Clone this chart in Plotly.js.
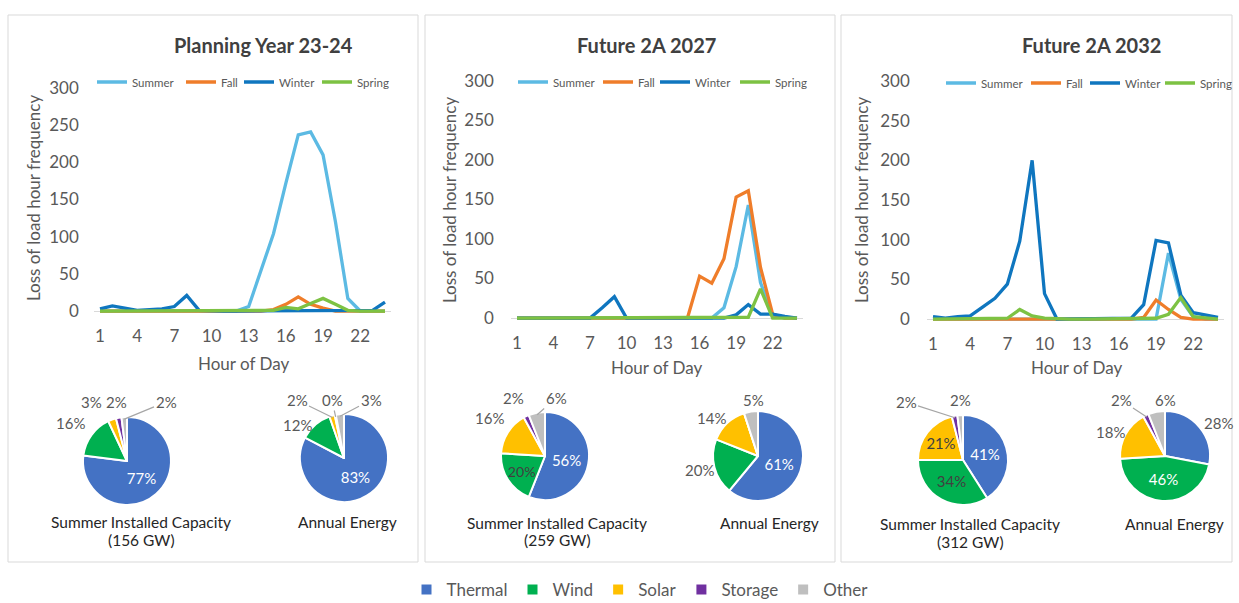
<!DOCTYPE html>
<html>
<head>
<meta charset="utf-8">
<script src="https://cdn.plot.ly/plotly-3.0.1.min.js"></script>
<style>html,body{margin:0;padding:0;background:#fff;overflow:hidden;}#chart{width:1239px;height:603px;}</style>
</head>
<body>
<div id="chart"></div>
<script>
// ---------- DATA ----------
const hours = Array.from({length: 24}, (_, i) => i + 1);
const xTickVals = [1, 4, 7, 10, 13, 16, 19, 22];
const yTickVals = [0, 50, 100, 150, 200, 250, 300];
const seasons = ['Summer', 'Fall', 'Winter', 'Spring'];

// Planning Year 23-24
const py_summer = [0,0,0,0,0,0,0,0,0,0,0,0,6,55,104,172,237,241,210,120,17,0,0,0];
const py_fall   = [0,0,0,0,0,0,0,0,0,0,0,0,0,0,2,9,19,9,4,0,0,0,0,0];
const py_winter = [3,7,4,1,2,3,6,21,1,0,0,0,0,0,0,0,0,0,0,0,0,0,1,12];
const py_spring = [0,0,0,0,0,0,0,0,0,0,0,0,0,0,1,5,3,10,17,9,1,0,0,0];

// Future 2A 2027
const f27_summer = [0,0,0,0,0,0,0,0,0,0,0,0,0,0,0,0,0,13,65,143,45,3,0,0];
const f27_fall   = [0,0,0,0,0,0,0,0,0,0,0,0,0,0,0,53,44,75,153,161,64,5,0,0];
const f27_winter = [0,0,0,0,0,0,0,13,27,0,0,0,0,0,0,0,0,0,4,17,5,5,2,0];
const f27_spring = [0,0,0,0,0,0,0,0,0,0,0,0,0,0,0,0,0,0,0,1,37,0,0,0];

// Future 2A 2032
const f32_summer = [0,0,0,0,0,0,0,0,0,0,0,0,0,0,0,0,0,0,0,83,25,3,0,0];
const f32_fall   = [0,0,0,0,0,0,0,1,0,0,0,0,0,0,0,0,0,2,24,12,2,0,0,0];
const f32_winter = [3,1,3,4,15,26,44,98,200,32,0,0,0,0,0,0,1,18,99,96,30,8,5,2];
const f32_spring = [0,0,0,0,0,0,1,12,4,1,0,0,0,0,0,0,0,0,1,6,27,3,1,0];

// Resource mix (percent)
const resources = ['Thermal', 'Wind', 'Solar', 'Storage', 'Other'];
const capPY  = [77, 16, 3, 2, 2];
const enPY   = [83, 12, 2, 0.4, 3];
const cap27  = [56, 20, 16, 2, 6];
const en27   = [61, 20, 14, 0, 5];
const cap32  = [41, 34, 21, 2, 2];
const en32   = [28, 46, 18, 2, 6];

const panelTitles = ['Planning Year 23-24', 'Future 2A 2027', 'Future 2A 2032'];
const capCaptions = ['(156 GW)', '(259 GW)', '(312 GW)'];

// ---------- STYLE / LAYOUT ----------
const W = 1239, H = 603;
const FONT = 'Lato, "Open Sans", sans-serif';
const GREY = '#595959';
const DARK = '#404040';
const seasonColors = ['#5CBAE3', '#EF7D2A', '#0F76BF', '#7DC243'];
const resColors = ['#4472C4', '#00B050', '#FFC000', '#7030A0', '#BFBFBF'];
const px = v => v / W;
const py = v => 1 - v / H;

const panels = [
  {series: [py_summer, py_fall, py_winter, py_spring], x0: 93.8, x1: 391.2, yb: 314.0, yt: 84.3, std: 14,
   legX: [92, 181, 239, 317], legY: 82, title: [263, 45], ytitle: [33, 198], xtitle: [243, 363]},
  {series: [f27_summer, f27_fall, f27_winter, f27_spring], x0: 510.9, x1: 803.1, yb: 321.2, yt: 77.0, std: 16,
   legX: [513, 598, 655, 735], legY: 82, title: [646, 45], ytitle: [449, 200], xtitle: [656, 367]},
  {series: [f32_summer, f32_fall, f32_winter, f32_spring], x0: 926.8, x1: 1224.2, yb: 322.2, yt: 77.0, std: 16,
   legX: [941, 1026, 1085, 1160], legY: 83, title: [1091, 45], ytitle: [861, 200], xtitle: [1076, 367]}
];

const traces = [];
const layout = {
  width: W, height: H,
  margin: {l: 0, r: 0, t: 0, b: 0, pad: 0, autoexpand: false},
  paper_bgcolor: '#ffffff', plot_bgcolor: 'rgba(0,0,0,0)',
  font: {family: FONT, color: GREY},
  showlegend: true,
  annotations: [], shapes: []
};

let legCount = 0;
panels.forEach((p, i) => {
  const n = i === 0 ? '' : String(i + 1);
  p.series.forEach((ys, k) => {
    legCount += 1;
    const legName = legCount === 1 ? 'legend' : 'legend' + legCount;
    traces.push({
      type: 'scatter', mode: 'lines', x: hours, y: ys, name: seasons[k],
      xaxis: 'x' + n, yaxis: 'y' + n, legend: legName,
      line: {color: seasonColors[k], width: 3.3}, hoverinfo: 'x+y+name'
    });
    layout[legName] = {
      orientation: 'h', x: px(p.legX[k]), xanchor: 'left', y: py(p.legY), yanchor: 'middle',
      font: {family: FONT, size: 11.5, color: GREY}, bgcolor: 'rgba(0,0,0,0)', itemwidth: 30,
      itemclick: false, itemdoubleclick: false
    };
  });
  layout['xaxis' + n] = {
    domain: [px(p.x0), px(p.x1)], range: [0.5, 24.5], anchor: 'y' + n,
    tickvals: xTickVals, showgrid: false, zeroline: false, showline: false, ticks: '',
    tickfont: {family: FONT, size: 17, color: GREY}, ticklabelstandoff: 10, fixedrange: true
  };
  layout['yaxis' + n] = {
    domain: [py(p.yb), py(p.yt)], range: [-4, 305], anchor: 'x' + n,
    tickvals: yTickVals, showgrid: false, zeroline: true, zerolinecolor: '#D9D9D9', zerolinewidth: 1.2,
    showline: false, ticks: '', tickfont: {family: FONT, size: 17, color: GREY},
    ticklabelstandoff: p.std, fixedrange: true
  };
  layout.annotations.push(
    {text: '<b>' + panelTitles[i] + '</b>', x: px(p.title[0]), y: py(p.title[1]), xref: 'paper', yref: 'paper',
     xanchor: 'center', yanchor: 'middle', showarrow: false, font: {family: FONT, size: 20, color: DARK}},
    {text: 'Loss of load hour frequency', x: px(p.ytitle[0]), y: py(p.ytitle[1]), xref: 'paper', yref: 'paper',
     xanchor: 'center', yanchor: 'middle', textangle: -90, showarrow: false, font: {family: FONT, size: 17, color: GREY}},
    {text: 'Hour of Day', x: px(p.xtitle[0]), y: py(p.xtitle[1]), xref: 'paper', yref: 'paper',
     xanchor: 'center', yanchor: 'middle', showarrow: false, font: {family: FONT, size: 17, color: GREY}}
  );
});

// Panel frames
[[8, 418], [425, 835], [841, 1232]].forEach(([a, b]) => {
  layout.shapes.push({type: 'rect', xref: 'paper', yref: 'paper', x0: px(a), x1: px(b), y0: py(562), y1: py(15),
    line: {color: '#D9D9D9', width: 1}, fillcolor: 'rgba(0,0,0,0)', layer: 'below'});
});

// Pies. inC = inside label colour; lab = outside label position [x, y, leader line?]
const pieLegend = 'legend' + (legCount + 1);
const pies = [
  {vals: capPY, c: [127, 461], r: 44, inC: ['#fff', null, null, null, null],
   lab: [null, [70, 423, 0], [91, 402, 0], [116, 402, 0], [166, 402, 1]]},
  {vals: enPY, c: [344, 458], r: 44, inC: ['#fff', null, null, null, null],
   lab: [null, [297, 425, 0], [297, 400, 1], [332, 400, 1], [371, 400, 1]]},
  {vals: cap27, c: [545, 456], r: 44, inC: ['#fff', DARK, null, null, null],
   lab: [null, null, [489, 418, 0], [513, 398, 0], [556, 398, 1]]},
  {vals: en27, c: [758, 456], r: 45, inC: ['#fff', null, null, null, null],
   lab: [null, [699, 470, 0], [711, 418, 0], null, [753, 400, 0]]},
  {vals: cap32, c: [963, 460], r: 45, inC: ['#fff', DARK, DARK, null, null],
   lab: [null, null, null, [906, 402, 1], [960, 400, 0]]},
  {vals: en32, c: [1165, 456], r: 45, inC: [null, '#fff', null, null, null],
   lab: [[1218, 423, 0], null, [1110, 432, 0], [1121, 400, 1], [1165, 400, 0]]}
];
pies.forEach(p => {
  const txt = p.vals.map(v => Math.round(v) + '%');
  traces.push({
    type: 'pie', labels: resources, values: p.vals, sort: false, direction: 'clockwise', rotation: 0,
    text: p.inC.map((c, k) => c ? txt[k] : ''), textinfo: 'text', textposition: 'inside',
    insidetextorientation: 'horizontal',
    insidetextfont: {family: FONT, size: 15, color: p.inC.map(c => c || GREY)},
    marker: {colors: resColors, line: {color: '#ffffff', width: 2}},
    domain: {x: [px(p.c[0] - p.r), px(p.c[0] + p.r)], y: [py(p.c[1] + p.r), py(p.c[1] - p.r)]},
    legend: pieLegend, showlegend: true, hoverinfo: 'label+percent'
  });
  // outside labels, with optional leader lines to the slice's mid-angle on the rim
  const total = p.vals.reduce((a, b) => a + b, 0);
  let cum = 0;
  p.vals.forEach((v, k) => {
    const mid = 2 * Math.PI * (cum + v / 2) / total;
    cum += v;
    const L = p.lab[k];
    if (!L) return;
    const tipX = p.c[0] + (p.r - 2) * Math.sin(mid);
    const tipY = p.c[1] - (p.r - 2) * Math.cos(mid);
    const ann = {text: txt[k], xref: 'paper', yref: 'paper', xanchor: 'center', yanchor: 'middle',
      font: {family: FONT, size: 15, color: GREY}};
    if (L[2]) {
      Object.assign(ann, {x: px(tipX), y: py(tipY), showarrow: true, arrowhead: 0, arrowwidth: 1.2,
        arrowcolor: '#A6A6A6', ax: L[0] - tipX, ay: L[1] - tipY, standoff: 0});
    } else {
      Object.assign(ann, {x: px(L[0]), y: py(L[1]), showarrow: false});
    }
    layout.annotations.push(ann);
  });
});
layout[pieLegend] = {
  orientation: 'h', x: px(640), xanchor: 'center', y: py(590), yanchor: 'middle',
  font: {family: FONT, size: 17, color: GREY}, bgcolor: 'rgba(0,0,0,0)', itemwidth: 30,
  itemclick: false, itemdoubleclick: false
};

// Pie captions
const capX = [[141, 347], [557, 769], [970, 1174]];
const capY = [[522, 540], [523, 540], [524, 542]];
capX.forEach((xs, i) => {
  layout.annotations.push(
    {text: 'Summer Installed Capacity', x: px(xs[0]), y: py(capY[i][0]), xref: 'paper', yref: 'paper',
     xanchor: 'center', yanchor: 'middle', showarrow: false, font: {family: FONT, size: 15.5, color: '#262626'}},
    {text: capCaptions[i], x: px(xs[0]), y: py(capY[i][1]), xref: 'paper', yref: 'paper',
     xanchor: 'center', yanchor: 'middle', showarrow: false, font: {family: FONT, size: 15.5, color: '#262626'}},
    {text: 'Annual Energy', x: px(xs[1]), y: py(capY[i][0]), xref: 'paper', yref: 'paper',
     xanchor: 'center', yanchor: 'middle', showarrow: false, font: {family: FONT, size: 15.5, color: '#262626'}}
  );
});

Plotly.newPlot('chart', traces, layout, {displayModeBar: false, responsive: false});
</script>
</body>
</html>
